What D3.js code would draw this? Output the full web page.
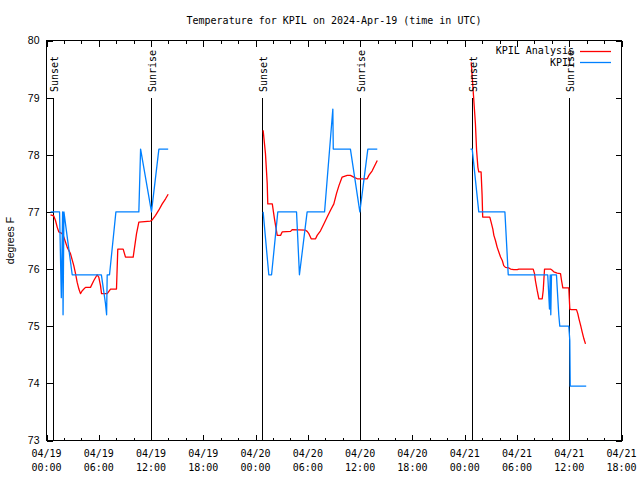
<!DOCTYPE html>
<html>
<head>
<meta charset="utf-8">
<script src="https://cdn.jsdelivr.net/npm/d3@7"></script>
<style>
  html, body { margin: 0; padding: 0; background: #fff; }
  svg { display: block; }
  .mono { font-family: "DejaVu Sans Mono", "Liberation Mono", monospace; font-size: 10px; fill: #000; }
  .sans { font-family: "Liberation Sans", Arial, sans-serif; font-size: 10.5px; fill: #000; }
</style>
</head>
<body>
<svg id="chart" width="640" height="480"></svg>
<script>
// ---------------- DATA ----------------
const chartTitle = "Temperature for KPIL on 2024-Apr-19 (time in UTC)";
const yLabel = "degrees F";
const seriesNames = ["KPIL Analysis", "KPIL"];
const seriesColors = ["#ff0000", "#0080ff"];

const analysisTimes = [
  "2024-04-19 00:28","2024-04-19 00:50","2024-04-19 01:02","2024-04-19 01:14","2024-04-19 01:25","2024-04-19 01:48",
  "2024-04-19 01:59","2024-04-19 02:23","2024-04-19 02:45","2024-04-19 03:08","2024-04-19 03:20","2024-04-19 03:31",
  "2024-04-19 03:43","2024-04-19 03:54","2024-04-19 04:06","2024-04-19 04:17","2024-04-19 04:29","2024-04-19 05:03",
  "2024-04-19 05:26","2024-04-19 05:49","2024-04-19 06:00","2024-04-19 06:12","2024-04-19 06:19","2024-04-19 06:58",
  "2024-04-19 07:21","2024-04-19 08:02","2024-04-19 08:11","2024-04-19 08:48","2024-04-19 09:04","2024-04-19 09:57",
  "2024-04-19 10:20","2024-04-19 10:36","2024-04-19 11:56","2024-04-19 12:08","2024-04-19 12:31","2024-04-19 12:53",
  "2024-04-19 13:17","2024-04-19 13:40","2024-04-19 13:58",
  "2024-04-20 00:52","2024-04-20 01:08","2024-04-20 01:20","2024-04-20 01:24","2024-04-20 01:55","2024-04-20 02:10",
  "2024-04-20 02:29","2024-04-20 02:52","2024-04-20 03:03","2024-04-20 04:01","2024-04-20 04:12","2024-04-20 05:44",
  "2024-04-20 05:55","2024-04-20 06:07","2024-04-20 06:23","2024-04-20 06:53","2024-04-20 07:04","2024-04-20 07:27",
  "2024-04-20 07:50","2024-04-20 08:13","2024-04-20 08:36","2024-04-20 08:59","2024-04-20 09:17","2024-04-20 09:34",
  "2024-04-20 09:56","2024-04-20 10:31","2024-04-20 10:53","2024-04-20 11:16","2024-04-20 11:40","2024-04-20 12:49",
  "2024-04-20 13:00","2024-04-20 13:23","2024-04-20 13:46","2024-04-20 13:58",
  "2024-04-21 00:45","2024-04-21 01:03","2024-04-21 01:14","2024-04-21 01:22","2024-04-21 01:31","2024-04-21 01:37",
  "2024-04-21 01:53","2024-04-21 02:00","2024-04-21 02:04","2024-04-21 02:53","2024-04-21 03:02","2024-04-21 03:14",
  "2024-04-21 03:21","2024-04-21 03:32","2024-04-21 03:44","2024-04-21 03:55","2024-04-21 04:07","2024-04-21 04:19",
  "2024-04-21 04:29","2024-04-21 04:41","2024-04-21 05:04","2024-04-21 05:16","2024-04-21 05:38","2024-04-21 06:02",
  "2024-04-21 06:13","2024-04-21 06:43","2024-04-21 07:52","2024-04-21 08:01","2024-04-21 08:07","2024-04-21 08:19",
  "2024-04-21 08:31","2024-04-21 08:54","2024-04-21 09:01","2024-04-21 09:05","2024-04-21 09:10","2024-04-21 09:51",
  "2024-04-21 10:03","2024-04-21 10:14","2024-04-21 10:37","2024-04-21 11:00","2024-04-21 11:07","2024-04-21 11:16",
  "2024-04-21 11:57","2024-04-21 12:04","2024-04-21 12:14","2024-04-21 12:50","2024-04-21 12:59","2024-04-21 13:07",
  "2024-04-21 13:19","2024-04-21 13:29","2024-04-21 13:41","2024-04-21 13:52"
];
const analysisTemps = [
  76.95,76.93,76.85,76.73,76.65,76.62,
  76.56,76.38,76.27,76.06,75.92,75.77,
  75.65,75.57,75.62,75.65,75.68,75.68,
  75.80,75.90,75.86,75.71,75.57,75.57,
  75.65,75.65,76.35,76.35,76.21,76.21,
  76.62,76.82,76.84,76.86,76.94,77.03,
  77.14,77.23,77.31,
  78.43,78.02,77.50,77.14,77.14,76.88,
  76.59,76.59,76.65,76.66,76.69,76.68,
  76.66,76.62,76.53,76.53,76.59,76.67,
  76.79,76.91,77.03,77.14,77.32,77.46,
  77.61,77.64,77.64,77.61,77.58,77.58,
  77.64,77.72,77.84,77.90,
  79.62,78.95,78.54,78.08,77.78,77.70,
  77.70,77.29,76.91,76.91,76.82,76.70,
  76.59,76.50,76.38,76.30,76.21,76.15,
  76.06,76.03,76.02,76.00,75.99,75.99,
  76.00,76.00,76.00,75.92,75.80,75.63,
  75.48,75.48,75.63,75.80,76.00,76.00,
  75.98,75.95,75.93,75.92,75.80,75.67,
  75.67,75.30,75.29,75.29,75.22,75.13,
  75.01,74.90,74.78,74.69
];

const obsTimes = [
  "2024-04-19 00:28","2024-04-19 01:30","2024-04-19 01:42","2024-04-19 01:51","2024-04-19 01:54","2024-04-19 02:00",
  "2024-04-19 02:57","2024-04-19 06:18","2024-04-19 06:46","2024-04-19 06:54","2024-04-19 06:58","2024-04-19 07:14",
  "2024-04-19 07:58","2024-04-19 10:36","2024-04-19 10:48","2024-04-19 12:03","2024-04-19 12:54","2024-04-19 13:58",
  "2024-04-20 00:52","2024-04-20 01:31","2024-04-20 01:50","2024-04-20 02:33","2024-04-20 04:42","2024-04-20 05:02",
  "2024-04-20 05:55","2024-04-20 07:55","2024-04-20 08:52","2024-04-20 08:55","2024-04-20 10:53","2024-04-20 11:58",
  "2024-04-20 12:53","2024-04-20 13:58",
  "2024-04-21 00:40","2024-04-21 00:52","2024-04-21 01:37","2024-04-21 04:37","2024-04-21 05:00","2024-04-21 09:32",
  "2024-04-21 09:44","2024-04-21 09:49","2024-04-21 09:53","2024-04-21 09:58","2024-04-21 10:32","2024-04-21 10:48",
  "2024-04-21 10:55","2024-04-21 11:57","2024-04-21 12:04","2024-04-21 12:07","2024-04-21 13:57"
];
const obsTemps = [
  77.0,77.0,75.5,77.0,75.2,77.0,
  75.9,75.9,75.4,75.2,75.9,75.9,
  77.0,77.0,78.1,77.0,78.1,78.1,
  77.0,75.9,75.9,77.0,77.0,75.9,
  77.0,77.0,78.8,78.1,78.1,77.0,
  78.1,78.1,
  78.1,78.1,77.0,77.0,75.9,75.9,
  75.3,75.9,75.2,75.9,75.9,75.2,
  75.0,75.0,74.75,73.95,73.95
];

const sunTimes  = ["2024-04-19 00:50","2024-04-19 12:03","2024-04-20 00:50","2024-04-20 12:02","2024-04-21 00:56","2024-04-21 12:04"];
const sunLabels = ["Sunset","Sunrise","Sunset","Sunrise","Sunset","Sunrise"];

const xDomain = ["2024-04-19 00:00","2024-04-21 18:00"];
const yDomain = [73, 80];
const yTickValues = [73,74,75,76,77,78,79,80];

// ---------------- DRAW ----------------
const parse = d3.utcParse("%Y-%m-%d %H:%M");
const svg = d3.select("#chart");
svg.append("rect").attr("width",640).attr("height",480).attr("fill","#fff");

const L = 46.5, R = 621.5, T = 40.5, B = 440.5;
const x = d3.scaleUtc().domain(xDomain.map(parse)).range([L, R]);
const y = d3.scaleLinear().domain(yDomain).range([B, T]);

svg.append("text").attr("class","mono")
  .attr("x",(L+R)/2).attr("y",20).attr("text-anchor","middle").attr("dominant-baseline","central")
  .text(chartTitle);

svg.append("text").attr("class","sans")
  .attr("transform",`translate(10,${(T+B)/2}) rotate(-90)`)
  .attr("text-anchor","middle").attr("dominant-baseline","central")
  .text(yLabel);

const majorTicks = d3.utcHour.every(6).range(x.domain()[0], new Date(+x.domain()[1] + 1));
const minorTicks = d3.utcHour.every(2).range(x.domain()[0], new Date(+x.domain()[1] + 1)).filter(d => d.getUTCHours() % 6 !== 0);

function styleAxis(g) {
  g.select(".domain").remove();
  g.selectAll("line").style("stroke","#000").attr("shape-rendering","crispEdges");
}
svg.append("g").attr("transform",`translate(0,${B})`)
  .call(d3.axisBottom(x).tickValues(majorTicks).tickSize(-6).tickFormat("")).call(styleAxis);
svg.append("g").attr("transform",`translate(0,${B})`)
  .call(d3.axisBottom(x).tickValues(minorTicks).tickSize(-3).tickFormat("")).call(styleAxis);
svg.append("g").attr("transform",`translate(0,${T})`)
  .call(d3.axisTop(x).tickValues(majorTicks).tickSize(-6).tickFormat("")).call(styleAxis);
svg.append("g").attr("transform",`translate(0,${T})`)
  .call(d3.axisTop(x).tickValues(minorTicks).tickSize(-3).tickFormat("")).call(styleAxis);

const fmtDate = d3.utcFormat("%m/%d"), fmtTime = d3.utcFormat("%H:%M");
const xl = svg.append("g").attr("class","mono");
majorTicks.forEach(d => {
  xl.append("text").attr("x",x(d)).attr("y",453).attr("text-anchor","middle").attr("dominant-baseline","central").text(fmtDate(d));
  xl.append("text").attr("x",x(d)).attr("y",467).attr("text-anchor","middle").attr("dominant-baseline","central").text(fmtTime(d));
});

const yl = svg.append("g").attr("transform",`translate(${L},0)`)
  .call(d3.axisLeft(y).tickValues(yTickValues).tickSize(-6).tickPadding(7).tickFormat(d3.format("d"))).call(styleAxis);
yl.attr("font-family",null).attr("font-size",null);
yl.selectAll("text").attr("class","sans").attr("fill","#000");

svg.append("g").attr("transform",`translate(${R},0)`)
  .call(d3.axisRight(y).tickValues(yTickValues).tickSize(-6).tickFormat("")).call(styleAxis);

// sunrise / sunset lines
const sunG = svg.append("g");
sunTimes.forEach((t) => {
  const sx = Math.round(x(parse(t)) - 0.5) + 0.5;
  sunG.append("line").attr("x1",sx).attr("x2",sx).attr("y1",y(79)).attr("y2",B)
    .style("stroke","#000").attr("stroke-width",1).attr("shape-rendering","crispEdges");
});

// series (break lines only between days)
function segments(times, temps) {
  const pts = times.map((t,i) => ({t: parse(t), v: temps[i]}));
  const segs = []; let cur = [];
  pts.forEach((p,i) => {
    if (i > 0 && (p.t - pts[i-1].t) > 8*3600*1000) { segs.push(cur); cur = []; }
    cur.push(p);
  });
  if (cur.length) segs.push(cur);
  return segs;
}
const line = d3.line().x(d => x(d.t)).y(d => y(d.v));
const allSeries = [[analysisTimes, analysisTemps], [obsTimes, obsTemps]];
allSeries.forEach(([ts, vs], si) => {
  svg.append("g").selectAll("path").data(segments(ts, vs)).join("path")
    .attr("d", line).style("fill","none").style("stroke", seriesColors[si]).style("stroke-width","1.3px")
    .attr("stroke-linejoin","round");
});

// legend
const lg = svg.append("g");
seriesNames.forEach((n,i) => {
  const ly = 50.5 + i*11.5;
  lg.append("text").attr("class","mono").attr("x",574).attr("y",ly).attr("text-anchor","end")
    .attr("dominant-baseline","central").text(n);
  lg.append("path").attr("d", `M580,${Math.round(ly)+0.5}H611`)
    .style("fill","none").style("stroke",seriesColors[i]).style("stroke-width","1.3px");
});

// sun labels
sunTimes.forEach((t,i) => {
  const sx = x(parse(t));
  svg.append("text").attr("class","mono")
    .attr("transform",`translate(${sx+1},92) rotate(-90)`)
    .attr("text-anchor","start").attr("dominant-baseline","central")
    .text(sunLabels[i]);
});

// border
svg.append("rect").attr("x",L).attr("y",T).attr("width",R-L).attr("height",B-T)
  .style("fill","none").style("stroke","#000").attr("stroke-width",1).attr("shape-rendering","crispEdges");
</script>
</body>
</html>
